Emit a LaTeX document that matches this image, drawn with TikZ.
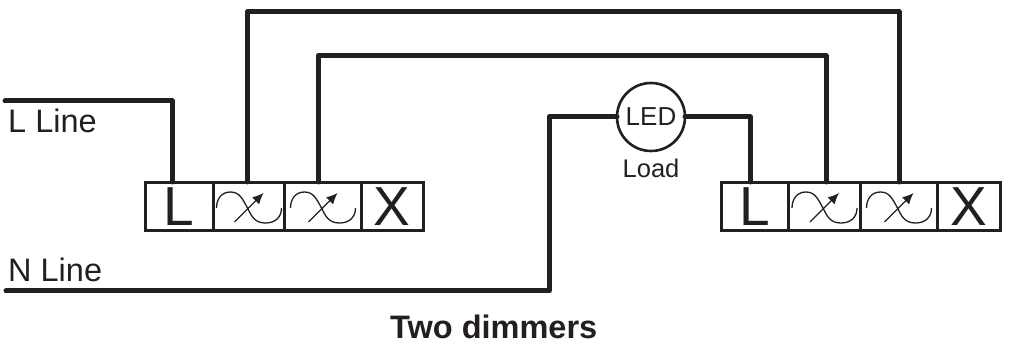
\documentclass[tikz,border=0pt]{standalone}
\usepackage{fontspec}
\setmainfont{Liberation Sans}
\usetikzlibrary{arrows.meta}
\newcommand{\fsz}[1]{\fontsize{#1}{#1}\selectfont}
\tikzset{
  wire/.style={line width=5pt,line join=round,line cap=round,color=wirecol},
  terminal/.style={draw=wirecol,line width=3pt,rectangle,inner sep=0pt,outer sep=0pt,minimum height=48pt,text=wirecol,font=\fsz{55}},
  caption/.style={inner sep=0pt,text=wirecol,anchor=base west,font=\fsz{32.5}},
  symline/.style={line width=1.3pt,color=wirecol},
  dimsym/.pic={
    \draw[symline] (-32,1) .. controls (-32,-8) and (-27,-15) .. (-18,-15)
       .. controls (-9,-15) and (-6,-8) .. (-1,1)
       .. controls (3,9) and (6,16) .. (17,16)
       .. controls (27,16) and (33,10) .. (33,1);
    \draw[symline,-{Latex[length=11pt,width=10pt]}] (-14,15) -- (15,-14);
  }
}
\definecolor{wirecol}{HTML}{231F20}
\begin{document}
\begin{tikzpicture}[x=1pt,y=-1pt]
\useasboundingbox (0,0) rectangle (1011,352);
% left terminal block
\node[terminal,minimum width=68pt] (la) at (179,207) {L};
\node[terminal,minimum width=71pt] (ld1) at (248.5,207) {};
\node[terminal,minimum width=77pt] (ld2) at (322.5,207) {};
\node[terminal,minimum width=62pt] (lx) at (392,207) {X};
% right terminal block
\node[terminal,minimum width=67pt] (ra) at (754.5,207) {L};
\node[terminal,minimum width=72pt] (rd1) at (824,207) {};
\node[terminal,minimum width=77pt] (rd2) at (898.5,207) {};
\node[terminal,minimum width=63pt] (rx) at (968.5,207) {X};
% dimmer symbols
\pic at (ld1) {dimsym};
\pic at (ld2) {dimsym};
\pic at (rd1) {dimsym};
\pic at (rd2) {dimsym};
% load
\node[circle,draw=wirecol,line width=2.6pt,fill=white,minimum size=68pt,inner sep=0pt,outer sep=0pt,text=wirecol,font=\fsz{26}] (led) at (651,117) {LED};
\node[inner sep=0pt,text=wirecol,anchor=base,font=\fsz{25.5}] (load) at (651,178) {Load};
% free ends and bends
\coordinate (lstart) at (5,101);
\coordinate (nstart) at (6,291);
\coordinate (nbend) at (549,291);
\coordinate (ltop1) at (247,12);
\coordinate (ltop2) at (318,56);
\coordinate (rtop1) at (899,12);
\coordinate (rtop2) at (826,56);
\coordinate (lin) at (172,182);
\coordinate (l1) at (247,182);
\coordinate (l2) at (318,182);
\coordinate (r0) at (750,182);
\coordinate (r1) at (826,182);
\coordinate (r2) at (899,182);
% wires
\draw[wire] (lstart) -| (lin);
\draw[wire] (l1) -- (ltop1) -- (rtop1) -- (r2);
\draw[wire] (l2) -- (ltop2) -- (rtop2) -- (r1);
\draw[wire] (nstart) -- (nbend) |- (led.west);
\draw[wire] (led.east) -| (r0);
% texts
\node[caption] (lline) at (8,133) {L Line};
\node[caption] (nline) at (8,282) {N Line};
\node[caption,font=\fsz{32.5}\bfseries] (title) at (390,338) {Two dimmers};
\end{tikzpicture}
\end{document}
